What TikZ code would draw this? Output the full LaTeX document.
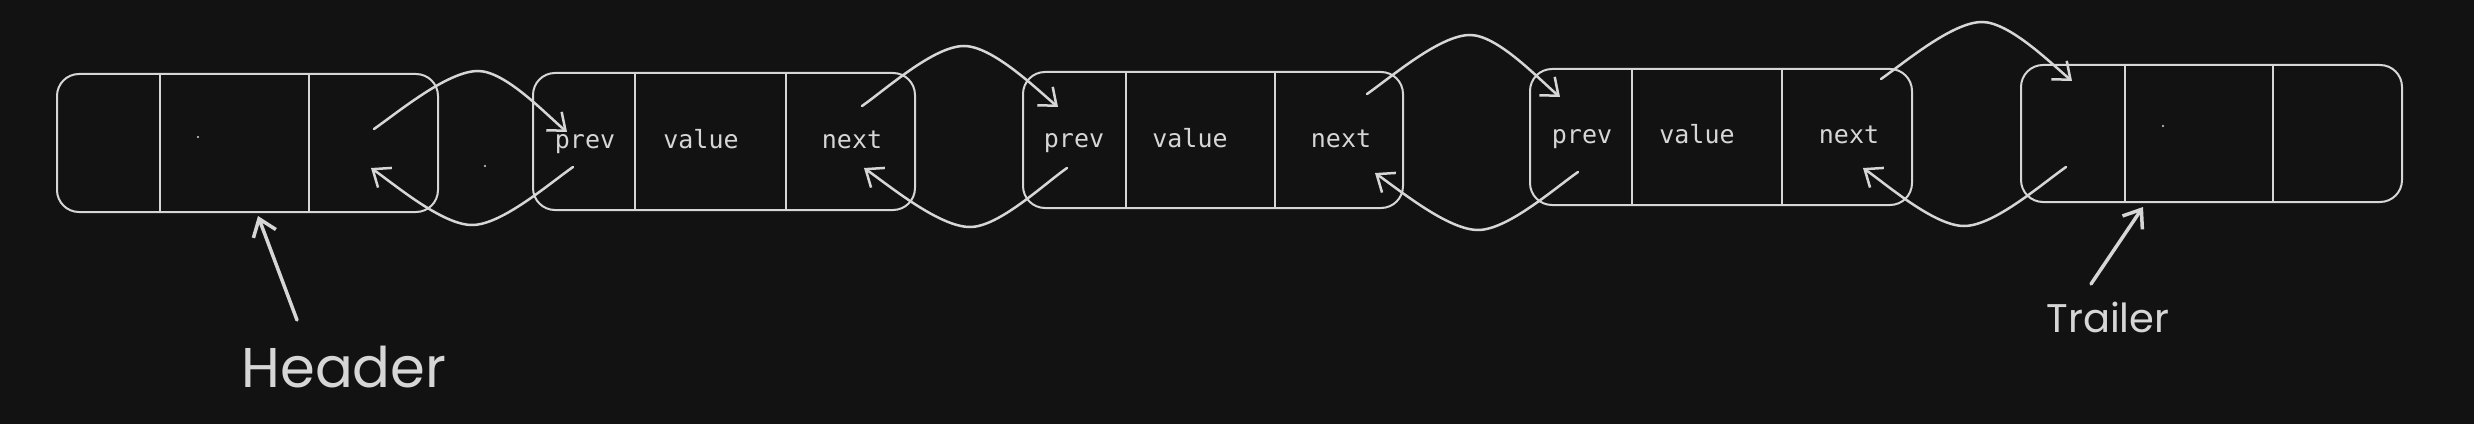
\documentclass[tikz,border=0pt]{standalone}
\usepackage{fontspec}
\usetikzlibrary{arrows.meta}
\newfontfamily\hfont{Poppins}
\newfontfamily\cfont{DejaVu Sans Mono}
\definecolor{bg}{HTML}{121212}
\definecolor{fg}{HTML}{D6D6D6}
\tikzset{
 listbox/.style={draw=fg, line width=2pt, rounded corners=22pt, inner sep=0pt, outer sep=0pt, anchor=north west},
 divider/.style={draw=fg, line width=2pt},
 cell/.style={text=fg, font=\cfont\fontsize{25}{29}\selectfont, anchor=base, inner sep=0pt},
 link/.style={draw=fg, line width=2.5pt, line cap=round, looseness=0.65, -{Straight Barb[length=15pt,width=24pt,line width=2.5pt]}},
 pointer/.style={draw=fg, line width=3.5pt, line cap=round, -{Straight Barb[length=16pt,width=24pt,line width=3.5pt]}},
 caption/.style={text=fg, font=\hfont\fontsize{56}{60}\selectfont, anchor=base, inner sep=0pt},
 speck/.style={fill=fg},
}
\begin{document}
\begin{tikzpicture}[x=1pt,y=1pt]
\fill[bg] (0,0) rectangle (2474,424);
\useasboundingbox (0,0) rectangle (2474,424);

% boxes
\node[listbox, minimum width=381pt, minimum height=138pt] (b1) at (57,350) {};
\node[listbox, minimum width=382pt, minimum height=137pt] (b2) at (533,351) {};
\node[listbox, minimum width=380pt, minimum height=136pt] (b3) at (1023,352) {};
\node[listbox, minimum width=382pt, minimum height=136pt] (b4) at (1530,355) {};
\node[listbox, minimum width=381pt, minimum height=137pt] (b5) at (2021,359) {};

% dividers
\draw[divider] ([xshift=103pt]b1.north west) -- ([xshift=103pt]b1.south west);
\draw[divider] ([xshift=252pt]b1.north west) -- ([xshift=252pt]b1.south west);
\draw[divider] ([xshift=102pt]b2.north west) -- ([xshift=102pt]b2.south west);
\draw[divider] ([xshift=253pt]b2.north west) -- ([xshift=253pt]b2.south west);
\draw[divider] ([xshift=103pt]b3.north west) -- ([xshift=103pt]b3.south west);
\draw[divider] ([xshift=252pt]b3.north west) -- ([xshift=252pt]b3.south west);
\draw[divider] ([xshift=102pt]b4.north west) -- ([xshift=102pt]b4.south west);
\draw[divider] ([xshift=252pt]b4.north west) -- ([xshift=252pt]b4.south west);
\draw[divider] ([xshift=104pt]b5.north west) -- ([xshift=104pt]b5.south west);
\draw[divider] ([xshift=252pt]b5.north west) -- ([xshift=252pt]b5.south west);

% labels
\node[cell] (b2p) at (585,276) {prev};
\node[cell] (b2v) at (701,276) {value};
\node[cell] (b2n) at (852,276) {next};
\node[cell] (b3p) at (1074,277) {prev};
\node[cell] (b3v) at (1190,277) {value};
\node[cell] (b3n) at (1341,277) {next};
\node[cell] (b4p) at (1582,281) {prev};
\node[cell] (b4v) at (1697,281) {value};
\node[cell] (b4n) at (1849,281) {next};

% specks
\fill[speck] (198,287) circle (1.2pt);
\fill[speck] (485,258) circle (1.2pt);
\fill[speck] (2163,298) circle (1.2pt);

% forward links
\coordinate (s1) at (374,295); \coordinate (p1) at (478,353); \coordinate (e1) at (567,292);
\coordinate (s2) at (862,318); \coordinate (p2) at (964,378); \coordinate (e2) at (1058,317);
\coordinate (s3) at (1367,330); \coordinate (p3) at (1470,389); \coordinate (e3) at (1560,327);
\coordinate (s4) at (1881,345); \coordinate (p4) at (1982,402); \coordinate (e4) at (2072,343);
\draw[link] (s1) to[out=35,in=180] (p1) to[out=0,in=140] (e1);
\draw[link] (s2) to[out=35,in=180] (p2) to[out=0,in=140] (e2);
\draw[link] (s3) to[out=35,in=180] (p3) to[out=0,in=140] (e3);
\draw[link] (s4) to[out=35,in=180] (p4) to[out=0,in=140] (e4);

% backward links
\coordinate (bs1) at (573,257); \coordinate (bt1) at (472,199); \coordinate (be1) at (371,256);
\coordinate (bs2) at (1067,256); \coordinate (bt2) at (970,197); \coordinate (be2) at (864,256);
\coordinate (bs3) at (1578,252); \coordinate (bt3) at (1478,194); \coordinate (be3) at (1375,251);
\coordinate (bs4) at (2066,257); \coordinate (bt4) at (1964,198); \coordinate (be4) at (1863,256);
\draw[link] (bs1) to[out=215,in=0] (bt1) to[out=180,in=-35] (be1);
\draw[link] (bs2) to[out=215,in=0] (bt2) to[out=180,in=-35] (be2);
\draw[link] (bs3) to[out=215,in=0] (bt3) to[out=180,in=-35] (be3);
\draw[link] (bs4) to[out=215,in=0] (bt4) to[out=180,in=-35] (be4);

% captions
\node[caption] (hdr) at (344,37) {Header};
\coordinate (hs) at (297,104); \coordinate (he) at (258,208);
\draw[pointer] (hs) -- (he);
\node[caption, font=\hfont\fontsize{40}{44}\selectfont] (trl) at (2108,92) {Trailer};
\coordinate (ts) at (2091,140); \coordinate (te) at (2143,217);
\draw[pointer] (ts) -- (te);
\end{tikzpicture}
\end{document}
